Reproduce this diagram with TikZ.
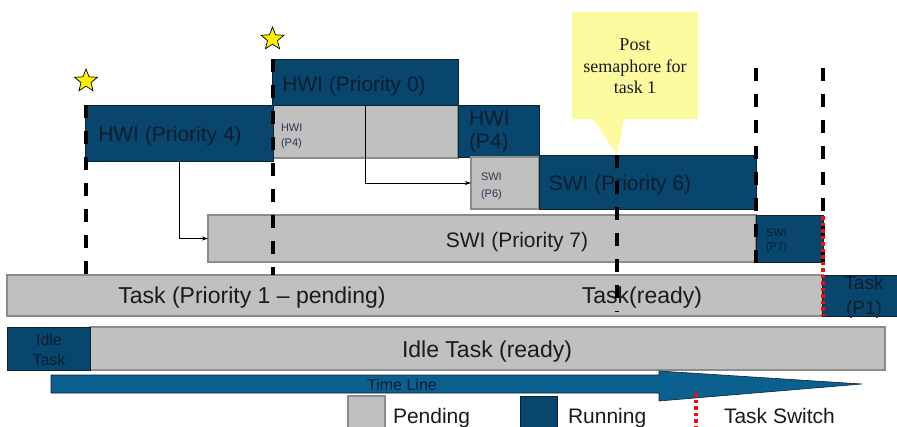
\documentclass[tikz,border=0pt]{standalone}
\usepackage{fontspec}
\setmainfont{Liberation Sans}
\newfontfamily\calloutfont{Liberation Serif}
\usetikzlibrary{shapes.geometric,arrows.meta}
\definecolor{runblue}{HTML}{0C6090}
\definecolor{runtop}{HTML}{08466E}
\definecolor{runedge}{HTML}{0A2236}
\definecolor{pendgray}{HTML}{C0C0C0}
\definecolor{pendedge}{HTML}{8C8C8C}
\definecolor{calloutyellow}{HTML}{FBFA9E}
\definecolor{txtdark}{HTML}{1A1A1A}
\definecolor{txtnavy}{HTML}{0A1E30}
\definecolor{txtsmall}{HTML}{33334F}
\definecolor{switchred}{HTML}{F01010}
\tikzset{
  box/.style={anchor=north west, inner sep=0pt, outer sep=0pt},
  sz/.style 2 args={minimum width=#1pt, minimum height=#2pt},
  run/.style={box, draw=runedge, line width=0.8pt, top color=runtop, middle color=runblue, bottom color=runtop},
  pend/.style={box, draw=pendedge, fill=pendgray, line width=1.2pt},
  lbl/.style={inner sep=0pt, outer sep=0pt},
  big/.style={lbl, font=\fontsize{21}{25}\selectfont},
  huge/.style={lbl, font=\fontsize{23}{27}\selectfont},
  small/.style={lbl, font=\fontsize{11}{15}\selectfont, text=txtsmall, align=left},
  conn/.style={draw=black, line width=0.8pt, -{Stealth[length=6pt,width=4pt]}},
  marker/.style={draw=black, line width=3.2pt, dash pattern=on 13pt off 13pt},
  switchline/.style={draw=switchred, line width=3.4pt, dash pattern=on 3.5pt off 3pt},
  starmark/.style={star, star points=5, star point ratio=2.3, minimum size=24pt, inner sep=0pt, fill=yellow, draw=black, line width=0.7pt}
}
\begin{document}
\begin{tikzpicture}[x=1pt,y=-1pt]
\useasboundingbox (0,0) rectangle (897,426);
\clip (0,0) rectangle (897,426);

% callout
\fill[calloutyellow] (572,12) -- (698,12) -- (698,119) -- (624,119) -- (617,155) -- (593,119) -- (572,119) -- cycle;
\node[lbl, font=\calloutfont\fontsize{18}{21.5}\selectfont, align=center, text=txtdark] (callout) at (635,66.5) {Post\\semaphore for\\task 1};

% stars
\node[starmark] (star1) at (86,81) {};
\node[starmark] (star2) at (272.5,39) {};

% boxes
\node[pend, sz={185}{53}] (hwi4p) at (273,105) {};
\node[run, sz={188}{56}] (hwi4) at (85,105) {};
\node[run, sz={186}{46}] (hwi0) at (272,59) {};
\node[run, sz={81}{52}] (hwi4r) at (458,105) {};
\node[pend, sz={68}{52}] (swi6p) at (471,157) {};
\node[run, sz={217}{54}] (swi6) at (539,155) {};
\node[pend, sz={548}{47}] (swi7) at (208,215) {};
\node[run, sz={67}{47}] (swi7r) at (756,215) {};
\node[pend, sz={816}{41}] (task) at (7,275) {};
\node[run, sz={80}{41}] (taskr) at (822,275) {};
\node[pend, sz={795}{43}] (idle) at (90,327) {};
\node[run, sz={83}{43}] (idler) at (7,327) {};

% labels
\node[big, anchor=base, text=txtnavy] (t1) at (170,141) {HWI (Priority 4)};
\node[big, anchor=base, text=txtnavy] (t2) at (354,91) {HWI (Priority 0)};
\node[small, anchor=west] (t3) at (281,136) {HWI\\(P4)};
\node[big, anchor=west, text=txtnavy, align=left, font=\fontsize{21}{23}\selectfont] (t4) at (469,132) {HWI\\(P4)};
\node[small, anchor=west, font=\fontsize{11}{17}\selectfont] (t5) at (481,186) {SWI\\(P6)};
\node[big, anchor=base, text=txtnavy] (t6) at (620,190) {SWI (Priority 6)};
\node[big, anchor=base, text=txtdark] (t7) at (517,247) {SWI (Priority 7)};
\node[small, anchor=west, text=txtnavy, font=\fontsize{11}{14}\selectfont] (t8) at (766,241) {SWI\\(P7)};
\node[huge, anchor=base, text=txtdark] (t9) at (252,303) {Task (Priority 1 -- pending)};
\node[huge, anchor=base, text=txtdark] (t10) at (642,303) {Task(ready)};
\node[lbl, font=\fontsize{19}{25}\selectfont, align=center, text=txtnavy] (t11) at (864,297.5) {Task\\(P1)};
\node[lbl, font=\fontsize{16}{20}\selectfont, align=center, text=txtnavy] (t12) at (49,350) {Idle\\Task};
\node[huge, anchor=base, text=txtdark] (t13) at (487,357) {Idle Task (ready)};

% connectors
\draw[conn] (hwi4.south) |- (swi7.west);
\draw[conn] (hwi0.south) |- (swi6p.west);

% time line
\filldraw[fill=runblue, draw=runedge, line width=0.6pt] (51,375) -- (659,375) -- (659,371) -- (862,384) -- (659,401) -- (659,393) -- (51,393) -- cycle;
\node[lbl, font=\fontsize{16}{20}\selectfont, anchor=base, text=txtnavy] (timeline) at (402,390) {Time Line};

% markers
\coordinate (m1a) at (86,105); \coordinate (m1b) at (86,275);
\coordinate (m2a) at (273,59); \coordinate (m2b) at (273,275);
\coordinate (m3a) at (617,155); \coordinate (m3b) at (617,312);
\coordinate (m4a) at (756,68); \coordinate (m4b) at (756,275);
\coordinate (m5a) at (823,68); \coordinate (m5b) at (823,275);
\coordinate (s1a) at (823,216); \coordinate (s1b) at (823,316);
\draw[marker] (m1a) -- (m1b);
\draw[marker] (m2a) -- (m2b);
\draw[marker] (m3a) -- (m3b);
\draw[marker] (m4a) -- (m4b);
\draw[marker] (m5a) -- (m5b);
\draw[switchline] (s1a) -- (s1b);

% legend
\node[pend, sz={37}{34}] (legp) at (348,396) {};
\node[big, anchor=base west, text=txtdark] (legpt) at (393,423) {Pending};
\node[run, sz={37}{34}] (legr) at (520,396) {};
\node[big, anchor=base west, text=txtdark] (legrt) at (568,423) {Running};
\coordinate (ls1) at (696,393); \coordinate (ls2) at (696,430);
\draw[switchline] (ls1) -- (ls2);
\node[big, anchor=base west, text=txtdark] (legst) at (724,423) {Task Switch};
\end{tikzpicture}
\end{document}
